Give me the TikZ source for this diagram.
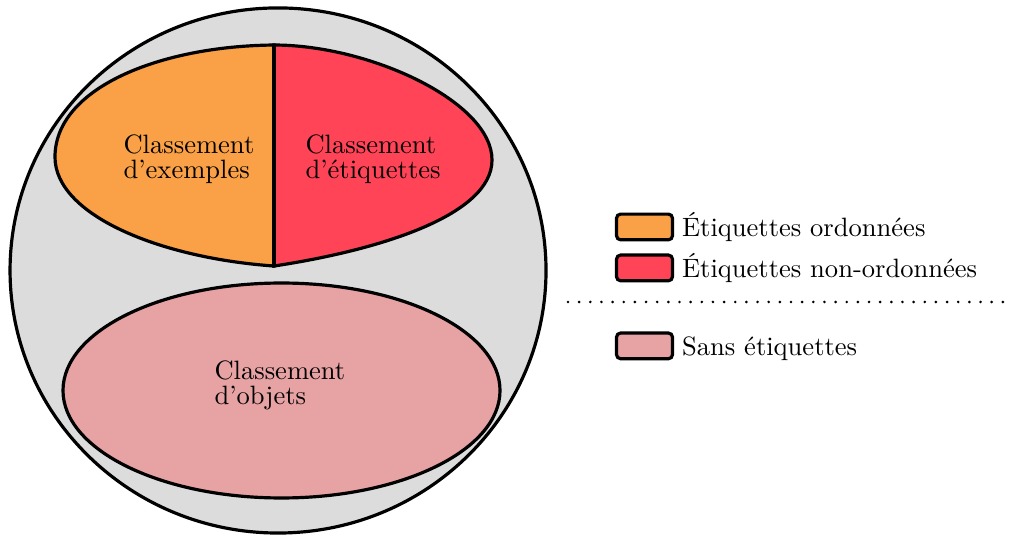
\documentclass[tikz,border=0pt]{standalone}
\usepackage{fontspec}
\usepackage{tikz}
\usetikzlibrary{positioning}

\definecolor{ordered}{RGB}{250,160,70}
\definecolor{unordered}{RGB}{255,68,88}
\definecolor{unlabelled}{RGB}{231,162,164}
\definecolor{bggrey}{RGB}{220,220,220}

\tikzset{
  region/.style={draw, very thick},
  legbox/.style={draw, very thick, rounded corners=1.5pt, minimum width=0.74cm, minimum height=0.34cm, inner sep=0pt},
  legtext/.style={inner sep=0pt, text height=9.3pt, text depth=1.9pt},
  areatext/.style={align=left, inner sep=0pt, anchor=north west, font=\linespread{0.8}\selectfont}
}

\begin{document}
\begin{tikzpicture}
  \useasboundingbox (0,0) rectangle (13.372,-7.070);

  % Outer set
  \draw[region, fill=bggrey] (3.681,-3.581) ellipse [x radius=3.548, y radius=3.476];

  % Upper set, split in two halves
  \coordinate (top) at (3.628,-0.596);
  \coordinate (bot) at (3.628,-3.522);
  \draw[region, fill=ordered] (top) .. controls (2.118,-0.609) and (0.728,-1.165) .. (0.728,-2.079)
    .. controls (0.728,-2.847) and (2.118,-3.416) .. (bot) -- cycle;
  \draw[region, fill=unordered] (top) .. controls (4.899,-0.596) and (6.514,-1.350) .. (6.514,-2.118)
    .. controls (6.514,-2.847) and (5.031,-3.310) .. (bot) -- cycle;
  \draw[region] (top) -- (bot);

  % Lower set
  \draw[region, fill=unlabelled] (3.727,-5.170) ellipse [x radius=2.893, y radius=1.423];

  % Set labels
  \node[areatext] (examples) at (1.629,-1.774) {Classement\\d'exemples};
  \node[areatext] (labels) at (4.038,-1.774) {Classement\\d'étiquettes};
  \node[areatext] (objects) at (2.833,-4.766) {Classement\\d'objets};

  % Legend
  \node[legbox, fill=ordered] (ordbox) at (8.533,-3.005) {};
  \node[legbox, fill=unordered, below=0.16cm of ordbox] (unordbox) {};
  \node[legbox, fill=unlabelled, below=0.65cm of unordbox] (nolabbox) {};
  \node[legtext, right=0.1cm of ordbox] (ordtext) {Étiquettes ordonnées};
  \node[legtext, right=0.1cm of unordbox] (unordtext) {Étiquettes non-ordonnées};
  \node[legtext, right=0.1cm of nolabbox] (nolabtext) {Sans étiquettes};

  % Separator
  \coordinate (sepL) at (7.520,-3.998);
  \coordinate (sepR) at (13.306,-3.998);
  \draw[line width=1.1pt, line cap=round, dash pattern=on 0pt off 4.2pt] (sepL) -- (sepR);
\end{tikzpicture}
\end{document}
